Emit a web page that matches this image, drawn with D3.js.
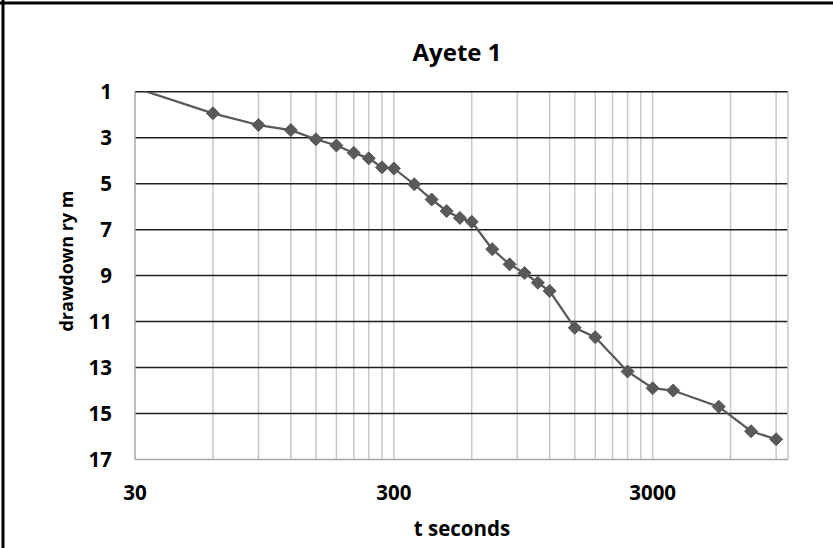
<!DOCTYPE html>
<html>

<head>
    <title>Ayete 1</title>
    <script src="https://d3js.org/d3.v7.min.js"></script>
    <style>
        body { margin: 0; background: #fff; }
        text { font-family: "Open Sans", "Liberation Sans", sans-serif; font-weight: bold; fill: #000; }
    </style>
</head>

<body>
    <svg width="833" height="548"></svg>

    <script>
        // time since pumping started (s) and drawdown (m)
        const times = [30, 60, 90, 120, 150, 180, 210, 240, 270, 300, 360, 420, 480, 540, 600,
            720, 840, 960, 1080, 1200, 1500, 1800, 2400, 3000, 3600, 5400, 7200, 9000];
        const drawdown = [0.83, 1.94, 2.45, 2.67, 3.07, 3.34, 3.66, 3.90, 4.29, 4.34, 5.03, 5.69, 6.19, 6.49, 6.66,
            7.85, 8.51, 8.89, 9.31, 9.67, 11.27, 11.68, 13.17, 13.90, 14.00, 14.70, 15.77, 16.12];

        const xMajor = [30, 300, 3000];
        const yTicks = [1, 3, 5, 7, 9, 11, 13, 15, 17];

        const width = 833, height = 548;
        const plotL = 135, plotR = 788, plotT = 91.7, plotB = 459.5;

        const svg = d3.select("svg");

        // outer frame (only top and left edges are visible)
        svg.append("line").attr("x1", 0).attr("x2", width).attr("y1", 3).attr("y2", 3)
            .attr("stroke", "#000").attr("stroke-width", 3);
        svg.append("line").attr("x1", 3).attr("x2", 3).attr("y1", 0).attr("y2", height)
            .attr("stroke", "#000").attr("stroke-width", 3);

        const x = d3.scaleLog().domain([30, 10000]).range([plotL, plotR]);
        const y = d3.scaleLinear().domain([1, 17]).range([plotT, plotB]);

        // minor vertical gridlines: every multiple inside each decade
        const vGrid = [];
        xMajor.forEach(m => {
            for (let k = 1; k <= 9; k++) {
                const v = m * k;
                if (v > 30 && v < 10000) vGrid.push(v);
            }
        });

        svg.append("g").selectAll("line")
            .data(vGrid)
            .enter()
            .append("line")
            .attr("x1", d => x(d)).attr("x2", d => x(d))
            .attr("y1", plotT).attr("y2", plotB)
            .attr("stroke", "#c8c8c8")
            .attr("stroke-width", 1.5);

        // horizontal gridlines
        svg.append("g").selectAll("line")
            .data(yTicks.slice(0, -1))
            .enter()
            .append("line")
            .attr("x1", plotL).attr("x2", plotR)
            .attr("y1", d => y(d)).attr("y2", d => y(d))
            .attr("stroke", "#1e1e1e")
            .attr("stroke-width", 1.5);

        // axis lines
        svg.append("line").attr("x1", plotL).attr("x2", plotL).attr("y1", plotT).attr("y2", plotB)
            .attr("stroke", "#a6a6a6").attr("stroke-width", 1.5);
        svg.append("line").attr("x1", plotR).attr("x2", plotR).attr("y1", plotT).attr("y2", plotB)
            .attr("stroke", "#c8c8c8").attr("stroke-width", 1.5);
        svg.append("line").attr("x1", plotL).attr("x2", plotR).attr("y1", plotB).attr("y2", plotB)
            .attr("stroke", "#a6a6a6").attr("stroke-width", 1.5);

        // tick labels
        svg.append("g").selectAll("text")
            .data(yTicks)
            .enter()
            .append("text")
            .attr("x", 112)
            .attr("y", d => y(d))
            .attr("dy", "0.36em")
            .attr("text-anchor", "end")
            .style("font-size", "20.5px")
            .text(d => d);

        svg.append("g").selectAll("text")
            .data(xMajor)
            .enter()
            .append("text")
            .attr("x", d => x(d))
            .attr("y", 500)
            .attr("text-anchor", "middle")
            .style("font-size", "20.5px")
            .text(d => d);

        // titles
        svg.append("text")
            .attr("x", 457).attr("y", 61)
            .attr("text-anchor", "middle")
            .style("font-size", "24px")
            .text("Ayete 1");

        svg.append("text")
            .attr("x", 462).attr("y", 536)
            .attr("text-anchor", "middle")
            .style("font-size", "20.5px")
            .text("t seconds");

        svg.append("text")
            .attr("transform", "translate(73,261) rotate(-90)")
            .attr("text-anchor", "middle")
            .style("font-size", "18px")
            .text("drawdown ry m");

        // series
        const pts = times.map((t, i) => ({ t: t, d: drawdown[i] }));

        svg.append("clipPath").attr("id", "plot")
            .append("rect").attr("x", plotL).attr("y", plotT)
            .attr("width", plotR - plotL).attr("height", plotB - plotT);

        const color = "#595959";

        svg.append("path")
            .datum(pts)
            .attr("clip-path", "url(#plot)")
            .attr("fill", "none")
            .attr("stroke", color)
            .attr("stroke-width", 2.25)
            .attr("d", d3.line().x(d => x(d.t)).y(d => y(d.d)));

        svg.append("g").selectAll("path")
            .data(pts.filter(d => d.d >= 1 && d.d <= 17))
            .enter()
            .append("path")
            .attr("transform", d => `translate(${x(d.t)},${y(d.d)})`)
            .attr("d", "M0,-6.5L6.5,0L0,6.5L-6.5,0Z")
            .attr("fill", color)
            .attr("stroke", color)
            .attr("stroke-width", 1);
    </script>
</body>

</html>
